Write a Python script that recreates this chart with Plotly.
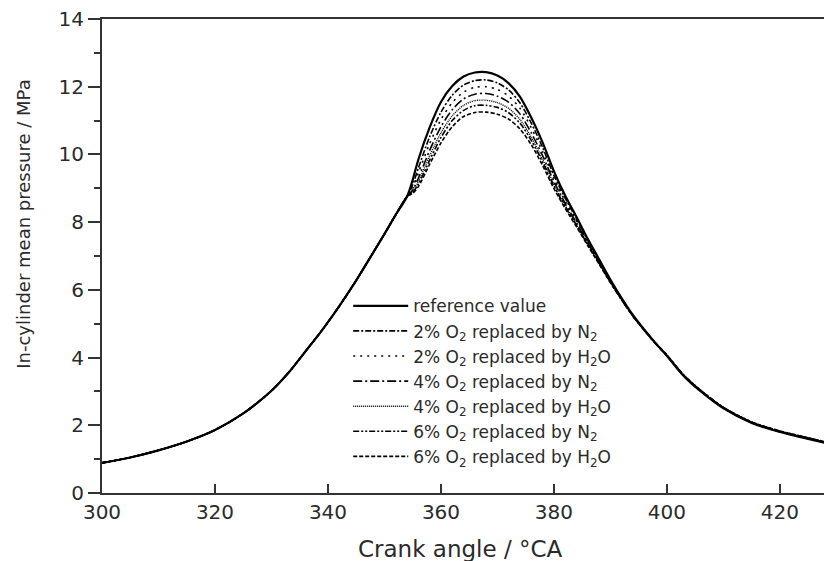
import plotly.graph_objects as go

# Compression stroke, common to every case (°CA, MPa)
compression_angle = [300, 305, 310, 315, 320, 325, 330, 333, 336, 339, 342, 345, 348, 350, 352]
compression_p = [0.89, 1.05, 1.26, 1.52, 1.86, 2.35, 3.02, 3.55, 4.18, 4.82, 5.52, 6.28, 7.10, 7.65, 8.22]

# Combustion / expansion part (°CA)
combustion_angle = [354, 355, 356, 358, 360, 362, 364, 366, 368, 370, 372, 374, 376, 378,
                    380, 382, 384, 386, 388, 390, 392, 394, 396, 398, 400, 403, 406, 410,
                    415, 420, 425, 428]

p_reference = [8.76, 9.25, 9.85, 10.80, 11.55, 12.02, 12.30, 12.42, 12.43, 12.33, 12.10, 11.70,
               11.08, 10.35, 9.50, 8.78, 8.15, 7.50, 6.90, 6.30, 5.75, 5.25, 4.82, 4.42, 4.05,
               3.45, 3.00, 2.50, 2.07, 1.80, 1.60, 1.48]
p_2_n2 = [8.76, 9.10, 9.60, 10.52, 11.25, 11.75, 12.05, 12.18, 12.20, 12.11, 11.90, 11.52,
          10.92, 10.20, 9.38, 8.70, 8.10, 7.46, 6.87, 6.28, 5.74, 5.24, 4.82, 4.42, 4.05,
          3.46, 3.01, 2.51, 2.08, 1.81, 1.61, 1.49]
p_2_h2o = [8.76, 9.00, 9.45, 10.32, 11.03, 11.53, 11.84, 11.98, 12.00, 11.92, 11.72, 11.36,
           10.78, 10.08, 9.29, 8.62, 8.04, 7.42, 6.84, 6.26, 5.72, 5.23, 4.81, 4.41, 4.05,
           3.46, 3.01, 2.51, 2.08, 1.81, 1.61, 1.49]
p_4_n2 = [8.76, 8.95, 9.30, 10.12, 10.82, 11.32, 11.64, 11.78, 11.80, 11.72, 11.54, 11.19,
          10.63, 9.96, 9.20, 8.55, 7.98, 7.38, 6.81, 6.24, 5.71, 5.22, 4.80, 4.41, 4.05,
          3.47, 3.02, 2.52, 2.09, 1.82, 1.62, 1.50]
p_4_h2o = [8.76, 8.90, 9.20, 9.96, 10.64, 11.14, 11.45, 11.59, 11.60, 11.53, 11.36, 11.03,
           10.50, 9.85, 9.12, 8.49, 7.93, 7.35, 6.79, 6.23, 5.70, 5.22, 4.80, 4.41, 4.06,
           3.47, 3.02, 2.52, 2.09, 1.82, 1.62, 1.50]
p_6_n2 = [8.76, 8.88, 9.12, 9.83, 10.50, 11.00, 11.30, 11.44, 11.45, 11.39, 11.23, 10.92,
          10.41, 9.77, 9.06, 8.45, 7.90, 7.33, 6.78, 6.22, 5.70, 5.22, 4.81, 4.42, 4.07,
          3.48, 3.03, 2.53, 2.10, 1.83, 1.63, 1.51]
p_6_h2o = [8.76, 8.85, 9.05, 9.71, 10.34, 10.82, 11.12, 11.24, 11.25, 11.19, 11.04, 10.75,
           10.28, 9.67, 8.99, 8.40, 7.86, 7.30, 6.76, 6.21, 5.70, 5.22, 4.81, 4.43, 4.08,
           3.48, 3.03, 2.53, 2.10, 1.83, 1.63, 1.51]

series_names = [
    "reference value",
    "2% O<sub>2</sub> replaced by N<sub>2</sub>",
    "2% O<sub>2</sub> replaced by H<sub>2</sub>O",
    "4% O<sub>2</sub> replaced by N<sub>2</sub>",
    "4% O<sub>2</sub> replaced by H<sub>2</sub>O",
    "6% O<sub>2</sub> replaced by N<sub>2</sub>",
    "6% O<sub>2</sub> replaced by H<sub>2</sub>O",
]
series_values = [p_reference, p_2_n2, p_2_h2o, p_4_n2, p_4_h2o, p_6_n2, p_6_h2o]
dash_styles = ["solid", "6px,2px,2px,2px", "2px,5px", "9px,3px,2px,3px", "1px,1px",
               "6px,2px,2px,2px,2px,2px", "4px,2px"]
line_widths = [2.2, 1.6, 1.6, 1.6, 1.4, 1.6, 1.6]

x_ticks = [300, 320, 340, 360, 380, 400, 420]
y_ticks = [0, 2, 4, 6, 8, 10, 12, 14]

FONT = "DejaVu Sans"
INK = "#2a2a2a"

fig = go.Figure()
for name, vals, dash, w in zip(series_names, series_values, dash_styles, line_widths):
    fig.add_trace(go.Scatter(
        x=compression_angle + combustion_angle,
        y=compression_p + vals,
        mode="lines",
        name=name,
        line=dict(color="black", width=w, dash=dash, shape="spline", smoothing=0.8),
    ))

fig.update_layout(
    width=824, height=561,
    margin=dict(l=102, r=0, t=19, b=68),
    paper_bgcolor="white", plot_bgcolor="white",
    font=dict(family=FONT, size=18, color=INK),
    showlegend=True,
    legend=dict(
        x=0.341, y=0.432, xanchor="left", yanchor="top",
        bgcolor="rgba(0,0,0,0)", borderwidth=0,
        font=dict(family=FONT, size=17, color=INK),
        itemwidth=55, tracegroupgap=0,
    ),
    xaxis=dict(
        range=[300, 427.8], tickmode="array", tickvals=x_ticks,
        ticks="inside", ticklen=9, tickwidth=1.5, tickcolor="#333",
        showline=True, linecolor="#333", linewidth=2, mirror=True,
        showgrid=False, zeroline=False,
        tickfont=dict(family=FONT, size=20, color=INK),
    ),
    yaxis=dict(
        range=[0, 14], tickmode="array", tickvals=y_ticks,
        ticks="outside", ticklen=12, tickwidth=1.5, tickcolor="#333",
        minor=dict(dtick=1, ticks="outside", ticklen=6, tickwidth=1.5, tickcolor="#333"),
        showline=True, linecolor="#333", linewidth=2,
        showgrid=False, zeroline=False,
        tickfont=dict(family=FONT, size=20, color=INK),
    ),
    annotations=[
        dict(text="Crank angle / °CA", xref="paper", yref="paper", x=0.496, y=-0.118,
             xanchor="center", yanchor="middle", showarrow=False,
             font=dict(family=FONT, size=23, color=INK)),
        dict(text="In-cylinder mean pressure / MPa", xref="paper", yref="paper",
             x=-0.108, y=0.566, xanchor="center", yanchor="middle", textangle=-90,
             showarrow=False, font=dict(family=FONT, size=18, color=INK)),
    ],
)

fig.write_html("out.html")
